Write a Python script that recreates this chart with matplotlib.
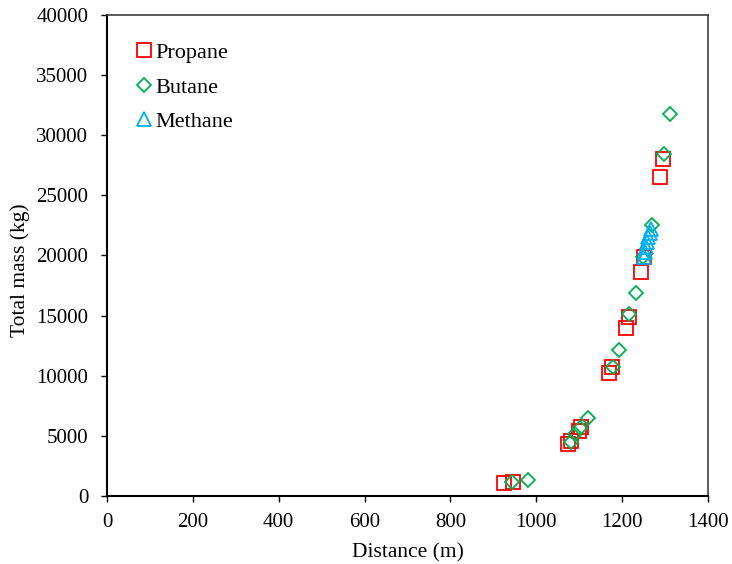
import matplotlib
matplotlib.use("Agg")
import matplotlib.pyplot as plt

plt.rcParams['font.family'] = ['Liberation Serif', 'DejaVu Serif']

propane_x = [925, 945, 1075, 1080, 1100, 1105, 1169, 1176, 1209, 1216, 1244, 1251, 1288, 1295]
propane_y = [1100, 1150, 4350, 4550, 5400, 5700, 10200, 10750, 14000, 14850, 18650, 19850, 26500, 28000]

butane_x = [943, 981, 1081, 1090, 1102, 1120, 1179, 1193, 1216, 1232, 1249, 1270, 1297, 1311]
butane_y = [1170, 1330, 4500, 5150, 5650, 6500, 10750, 12150, 15150, 16850, 19850, 22500, 28400, 31800]

methane_x = [1250, 1253, 1256, 1258, 1261, 1264, 1267]
methane_y = [19900, 20300, 20700, 21100, 21500, 21900, 22200]

fig = plt.figure(figsize=(7.32, 5.64), dpi=100)
ax = fig.add_axes([0.1462, 0.1206, 0.8210, 0.8528])

ax.plot(propane_x, propane_y, linestyle='none', marker='s', markersize=10.5,
        markerfacecolor='none', markeredgecolor='#FF0000', markeredgewidth=1.3, label='Propane')
ax.plot(butane_x, butane_y, linestyle='none', marker='D', markersize=7.5,
        markerfacecolor='none', markeredgecolor='#00B050', markeredgewidth=1.3, label='Butane')
ax.plot(methane_x, methane_y, linestyle='none', marker='^', markersize=10,
        markerfacecolor='none', markeredgecolor='#00B0F0', markeredgewidth=1.3, label='Methane')

ax.set_xlim(0, 1400)
ax.set_ylim(0, 40000)
ax.set_xticks(range(0, 1401, 200))
ax.set_yticks(range(0, 40001, 5000))
ax.tick_params(direction='out', length=4, width=1, labelsize=15, colors='black', pad=8)
ax.tick_params(axis='y', pad=9.5)
for s in ['left', 'bottom']:
    ax.spines[s].set_linewidth(1.5)
    ax.spines[s].set_color('black')
for s in ['top', 'right']:
    ax.spines[s].set_linewidth(1.2)
    ax.spines[s].set_color('#404040')

ax.set_xlabel('Distance (m)', fontsize=15.5, labelpad=8)
ax.set_ylabel('Total mass (kg)', fontsize=15.5)
ax.yaxis.set_label_coords(-0.128, 0.469)

ax.legend(loc='upper left', bbox_to_anchor=(0.0135, 0.984), frameon=False, fontsize=16,
          handletextpad=0.1, labelspacing=0.62, handlelength=0.8)

fig.savefig('out.png', dpi=100)
